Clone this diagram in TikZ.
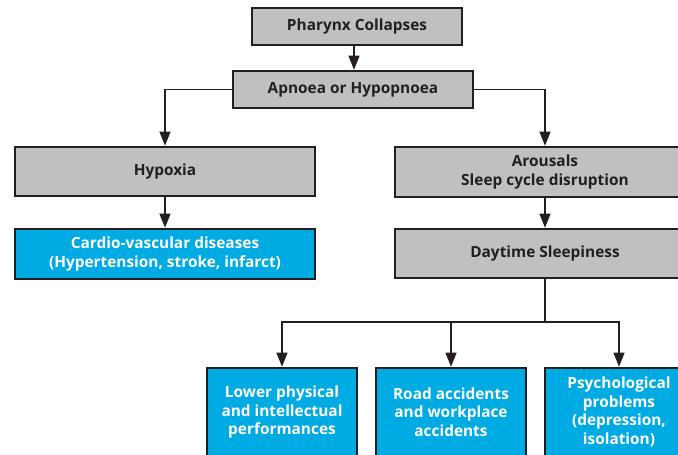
\documentclass[tikz,border=0pt]{standalone}
\usepackage{fontspec}
\setmainfont{Open Sans}
\usetikzlibrary{arrows.meta}
\definecolor{boxgray}{RGB}{192,192,192}
\definecolor{boxblue}{RGB}{0,170,226}
\definecolor{ink}{RGB}{35,31,32}
\begin{document}
\begin{tikzpicture}[x=1pt,y=-1pt,
  basebox/.style={draw=ink, line width=2.6pt, align=center, inner sep=0pt,
    font=\fontsize{15.4}{18.5}\selectfont\bfseries},
  graybox/.style={basebox, fill=boxgray, text=ink},
  bluebox/.style={basebox, fill=boxblue, text=white},
  conn/.style={draw=ink, line width=1.2pt, -{Triangle[width=11pt,length=14pt]}},
  plain/.style={draw=ink, line width=1.2pt}]
\useasboundingbox (0,0) rectangle (678,455);
\clip (0,0) rectangle (678,455);
\fill[white] (0,0) rectangle (678,455);
\node[graybox, minimum width=210, minimum height=37] (pharynx) at (357,26.5) {Pharynx Collapses};
\node[graybox, minimum width=240, minimum height=37] (apnoea) at (353,89.5) {Apnoea or Hypopnoea};
\node[graybox, minimum width=300, minimum height=49] (hypoxia) at (165,171.5) {Hypoxia};
\node[bluebox, minimum width=300, minimum height=50] (cardio) at (165,254) {Cardio-vascular diseases\\(Hypertension, stroke, infarct)};
\node[graybox, minimum width=300, minimum height=50] (arousals) at (545,172) {Arousals\\Sleep cycle disruption};
\node[graybox, minimum width=300, minimum height=49] (daytime) at (545,253.5) {Daytime Sleepiness};
\node[bluebox, minimum width=150, minimum height=88] (lower) at (282,412) {Lower physical\\and intellectual\\performances};
\node[bluebox, minimum width=150, minimum height=88] (road) at (451,412) {Road accidents\\and workplace\\accidents};
\node[bluebox, minimum width=148, minimum height=88] (psych) at (619,412) {Psychological\\problems\\(depression,\\isolation)};
\coordinate (split) at (545,322);
\draw[conn] ([xshift=-3pt]pharynx.south) -- ([xshift=-3pt]pharynx.south |- apnoea.north);
\draw[conn] (apnoea.west) -| (hypoxia.north);
\draw[conn] (apnoea.east) -| (arousals.north);
\draw[conn] (hypoxia) -- (cardio);
\draw[conn] (arousals) -- (daytime);
\draw[plain] (daytime.south) -- (split);
\draw[conn] (split) -| (lower.north);
\draw[conn] (split) -| (psych.north);
\draw[conn] (split -| road.north) -- (road.north);
\end{tikzpicture}
\end{document}
